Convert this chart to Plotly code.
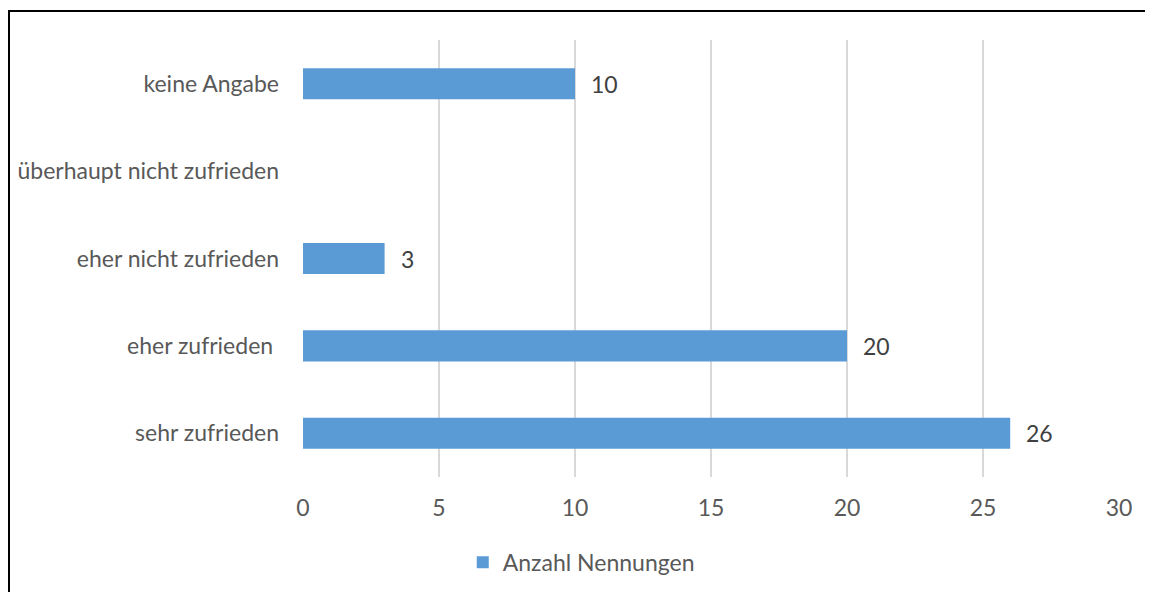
import plotly.graph_objects as go

categories = ["sehr zufrieden", "eher zufrieden\u00a0", "eher nicht zufrieden",
              "überhaupt nicht zufrieden", "keine Angabe"]
values = [26, 20, 3, None, 10]
series_name = "Anzahl Nennungen"
x_ticks = [0, 5, 10, 15, 20, 25, 30]

FONT = "Lato"
AXIS_COLOR = "#595959"
LABEL_COLOR = "#404040"
BAR_COLOR = "#5B9BD5"

fig = go.Figure()
fig.add_trace(go.Bar(
    y=categories, x=values, orientation="h", name=series_name,
    marker=dict(color=BAR_COLOR, line=dict(width=0)),
    showlegend=True,
))

annotations = []
for c, v in zip(categories, values):
    if v is None:
        continue
    annotations.append(dict(
        x=v, y=c, xref="x", yref="y", text=str(v), showarrow=False,
        xanchor="left", yanchor="middle", xshift=14,
        font=dict(family=FONT, size=23, color=LABEL_COLOR),
    ))

fig.update_layout(
    width=1145, height=584,
    margin=dict(l=295, r=34, t=32, b=115, autoexpand=False),
    paper_bgcolor="white", plot_bgcolor="white",
    bargap=0.644,
    font=dict(family=FONT, size=23, color=AXIS_COLOR),
    xaxis=dict(range=[0, 30], tickvals=x_ticks, showgrid=True,
               gridcolor="#D9D9D9", gridwidth=1.5, zeroline=False,
               showline=False, ticks="", ticklabelstandoff=15,
               automargin=False,
               tickfont=dict(family=FONT, size=23, color=AXIS_COLOR)),
    yaxis=dict(categoryorder="array", categoryarray=categories,
               showgrid=False, zeroline=False, showline=False, ticks="",
               ticklabelstandoff=23, automargin=False,
               tickfont=dict(family=FONT, size=23, color=AXIS_COLOR)),
    legend=dict(orientation="h", x=0.341, xanchor="center", y=-0.195,
                yanchor="middle", font=dict(family=FONT, size=23, color=AXIS_COLOR),
                bgcolor="rgba(0,0,0,0)"),
    annotations=annotations,
    shapes=[dict(type="rect", xref="paper", yref="paper",
                 x0=-0.3603, x1=1.08, y0=-0.3, y1=1.0664,
                 line=dict(color="black", width=2), fillcolor="rgba(0,0,0,0)",
                 layer="below")],
)

fig.write_html("out.html")
